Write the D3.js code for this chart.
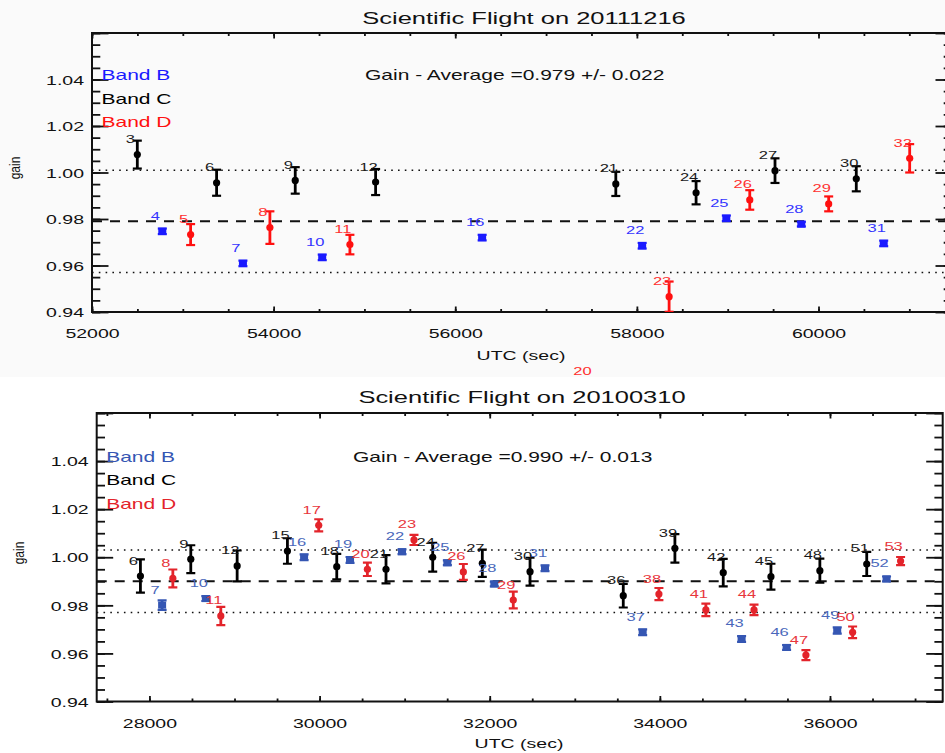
<!DOCTYPE html>
<html>
<head>
<meta charset="utf-8">
<script src="https://cdn.jsdelivr.net/npm/d3@7"></script>
<style>
  html, body { margin: 0; padding: 0; background: #ffffff; }
  svg { display: block; }
</style>
</head>
<body>
<svg id="chart" width="945" height="753"></svg>
<script>
// ---------------------------------------------------------------
// Gain calibration per band, two scientific flights.
// Each row: [point number, UTC (sec), gain, gain uncertainty]
// ---------------------------------------------------------------

// Flight 2011-12-16
const flight1Title = "Scientific Flight on 20111216";
const flight1Mean = 0.979;
const flight1Std = 0.022;
const flight1BandB = [
  [4, 52774, 0.9747, 0.0012], [7, 53662, 0.9609, 0.0012], [10, 54535, 0.9635, 0.0012],
  [16, 56296, 0.9720, 0.0012], [22, 58058, 0.9685, 0.0012], [25, 58985, 0.9803, 0.0012],
  [28, 59811, 0.9778, 0.0010], [31, 60718, 0.9695, 0.0012]
];
const flight1BandC = [
  [3, 52499, 1.0077, 0.0060], [6, 53372, 0.9956, 0.0056], [9, 54238, 0.9966, 0.0057],
  [12, 55123, 0.9959, 0.0056], [21, 57768, 0.9951, 0.0052], [24, 58652, 0.9913, 0.0050],
  [27, 59521, 1.0008, 0.0053], [30, 60416, 0.9973, 0.0054]
];
const flight1BandD = [
  [5, 53086, 0.9733, 0.0045], [8, 53959, 0.9763, 0.0070], [11, 54840, 0.9690, 0.0042],
  [20, 57478, 0.9080, 0.0050], [23, 58355, 0.9466, 0.0065], [26, 59243, 0.9882, 0.0042],
  [29, 60112, 0.9865, 0.0032], [32, 61004, 1.0061, 0.0061]
];

// Flight 2010-03-10
const flight2Title = "Scientific Flight on 20100310";
const flight2Mean = 0.990;
const flight2Std = 0.013;
const flight2BandB = [
  [7, 28149, 0.9801, 0.0020], [10, 28663, 0.9828, 0.0010], [16, 29818, 1.0000, 0.0012],
  [19, 30358, 0.9989, 0.0012], [22, 30969, 1.0023, 0.0010], [25, 31502, 0.9977, 0.0010],
  [28, 32054, 0.9889, 0.0010], [31, 32650, 0.9954, 0.0012], [37, 33798, 0.9688, 0.0012],
  [43, 34961, 0.9660, 0.0012], [46, 35490, 0.9625, 0.0010], [49, 36085, 0.9695, 0.0013],
  [52, 36665, 0.9910, 0.0010]
];
const flight2BandC = [
  [6, 27894, 0.9922, 0.0069], [9, 28486, 0.9992, 0.0058], [12, 29031, 0.9964, 0.0064],
  [15, 29622, 1.0026, 0.0053], [18, 30202, 0.9961, 0.0053], [21, 30781, 0.9950, 0.0059],
  [24, 31330, 1.0000, 0.0060], [27, 31913, 0.9975, 0.0057], [30, 32474, 0.9940, 0.0058],
  [36, 33570, 0.9840, 0.0049], [39, 34177, 1.0037, 0.0059], [42, 34745, 0.9936, 0.0057],
  [45, 35306, 0.9919, 0.0054], [48, 35881, 0.9944, 0.0050], [51, 36432, 0.9972, 0.0050]
];
const flight2BandD = [
  [8, 28275, 0.9912, 0.0037], [11, 28839, 0.9756, 0.0038], [17, 29990, 1.0133, 0.0025],
  [20, 30562, 0.9950, 0.0028], [23, 31110, 1.0072, 0.0021], [26, 31690, 0.9939, 0.0033],
  [29, 32277, 0.9822, 0.0035], [38, 33989, 0.9847, 0.0025], [41, 34541, 0.9781, 0.0026],
  [44, 35107, 0.9781, 0.0022], [47, 35717, 0.9593, 0.0021], [50, 36266, 0.9688, 0.0024],
  [53, 36830, 0.9984, 0.0017]
];

// Axis ticks
const gainTicks = [0.94, 0.96, 0.98, 1.00, 1.02, 1.04];
const gainMinorStep = 0.005;
const flight1UtcTicks = [52000, 54000, 56000, 58000, 60000];
const flight2UtcTicks = [28000, 30000, 32000, 34000, 36000];
const utcMinorStep = 500;

const legendNames = ["Band B", "Band C", "Band D"];

// ---------------------------------------------------------------
const FONT = "'Liberation Sans', Arial, Helvetica, sans-serif";
const SX = 1.5;   // horizontal stretch of all lettering
const svg = d3.select("#chart");

// faint backdrop behind the upper panel
svg.append("rect").attr("x", 0).attr("y", 0).attr("width", 945).attr("height", 377)
  .attr("fill", "#fafafa");

function stretchedText(g, x, y, str, size, anchor, color) {
  return g.append("text")
    .attr("transform", `translate(${x},${y}) scale(${SX},1)`)
    .attr("text-anchor", anchor)
    .attr("font-family", FONT)
    .attr("font-size", size)
    .attr("fill", color)
    .text(str);
}

function range(a, b, step) {
  const out = [];
  for (let v = a; v <= b + 1e-9; v += step) out.push(+v.toFixed(6));
  return out;
}

function drawPanel(cfg) {
  const { left, right, top, bottom, xDomain } = cfg;
  const x = d3.scaleLinear().domain(xDomain).range([left, right]);
  const y = d3.scaleLinear().domain([0.94, 1.06]).range([bottom, top]);
  const g = svg.append("g");
  const clipId = "clip" + cfg.id;
  g.append("clipPath").attr("id", clipId).append("rect")
    .attr("x", left).attr("y", top).attr("width", right - left).attr("height", bottom - top);

  // title
  stretchedText(g, cfg.titleX, cfg.titleY, cfg.title, 17, "middle", "#111");

  // reference lines: mean (dashed) and mean +/- std (dotted)
  const lines = g.append("g").attr("clip-path", `url(#${clipId})`);
  [[cfg.mean, "10,8", 2], [cfg.mean + cfg.std, "1.6,5.2", 1.6], [cfg.mean - cfg.std, "1.6,5.2", 1.6]]
    .forEach(([v, dash, w]) => {
      lines.append("line")
        .attr("x1", left).attr("x2", right)
        .attr("y1", y(v)).attr("y2", y(v))
        .attr("stroke", "#111").attr("stroke-width", w)
        .attr("stroke-dasharray", dash);
    });

  // axes with inward ticks on all four sides
  const minorY = range(0.94, 1.06, gainMinorStep);
  const minorX = range(Math.ceil(xDomain[0] / utcMinorStep) * utcMinorStep, xDomain[1], utcMinorStep);
  const majorX = minorX.filter(v => v % 2000 === 0);
  const tickAxis = (axis, tr) => {
    const a = g.append("g").attr("transform", tr).call(axis);
    a.select(".domain").remove();
    a.selectAll("line").attr("stroke", "#111").attr("stroke-width", 1.8);
    a.selectAll("text").remove();
  };
  const yMajor = 16.5, yMinor = 8.3, xMajor = 5.5, xMinor = 3;
  tickAxis(d3.axisLeft(y).tickValues(minorY).tickSize(-yMinor), `translate(${left},0)`);
  tickAxis(d3.axisLeft(y).tickValues(gainTicks.concat([1.06])).tickSize(-yMajor), `translate(${left},0)`);
  tickAxis(d3.axisRight(y).tickValues(minorY).tickSize(-yMinor), `translate(${right},0)`);
  tickAxis(d3.axisRight(y).tickValues(gainTicks.concat([1.06])).tickSize(-yMajor), `translate(${right},0)`);
  tickAxis(d3.axisBottom(x).tickValues(minorX).tickSize(-xMinor), `translate(0,${bottom})`);
  tickAxis(d3.axisBottom(x).tickValues(majorX).tickSize(-xMajor), `translate(0,${bottom})`);
  tickAxis(d3.axisTop(x).tickValues(minorX).tickSize(-xMinor), `translate(0,${top})`);
  tickAxis(d3.axisTop(x).tickValues(majorX).tickSize(-xMajor), `translate(0,${top})`);

  // tick labels
  const yLab = g.append("g").attr("transform", `translate(${left},0)`)
    .call(d3.axisLeft(y).tickValues(gainTicks).tickSize(0).tickPadding(0).tickFormat(d3.format(".2f")));
  yLab.select(".domain").remove();
  yLab.selectAll("text")
    .attr("x", null).attr("dy", "0.36em")
    .attr("transform", `translate(-8,0) scale(${SX},1)`)
    .attr("font-family", FONT).attr("font-size", 13).attr("fill", "#111");
  const xLab = g.append("g").attr("transform", `translate(0,${bottom})`)
    .call(d3.axisBottom(x).tickValues(cfg.xTicks).tickSize(0).tickPadding(0).tickFormat(d3.format("d")));
  xLab.select(".domain").remove();
  xLab.selectAll("text")
    .attr("y", cfg.xLabelGap).attr("dy", null)
    .attr("transform", `scale(${SX},1)`)
    .attr("font-family", FONT).attr("font-size", 13).attr("fill", "#111");

  // frame
  g.append("rect").attr("x", left).attr("y", top)
    .attr("width", right - left).attr("height", bottom - top)
    .attr("fill", "none").attr("stroke", "#111").attr("stroke-width", 2);

  // axis titles
  stretchedText(g, cfg.xTitleX, cfg.xTitleY, "UTC (sec)", 13, "middle", "#111");
  g.append("text")
    .attr("transform", `translate(${cfg.yTitleX},${cfg.yTitleY}) scale(1,0.8) rotate(-90)`)
    .attr("text-anchor", "middle")
    .attr("font-family", FONT).attr("font-size", 15).attr("fill", "#111")
    .text("gain");

  // legend and average
  cfg.bands.forEach((b, i) => {
    stretchedText(g, left + 9.5, cfg.legendY + i * 23.7, legendNames[i], 14, "start", b.color);
  });
  stretchedText(g, cfg.avgX, cfg.legendY,
    `Gain - Average =${cfg.mean.toFixed(3)} +/- ${cfg.std.toFixed(3)}`, 14, "start", "#111");

  // data points with error bars
  const marks = g.append("g").attr("clip-path", `url(#${clipId})`);
  const labels = g.append("g");
  cfg.bands.forEach(b => {
    const pts = marks.selectAll(null).data(b.rows).join("g")
      .attr("transform", d => `translate(${x(d[1])},0)`);
    pts.append("line")
      .attr("y1", d => y(d[2] - d[3])).attr("y2", d => y(d[2] + d[3]))
      .attr("stroke", b.color).attr("stroke-width", 2.8);
    [-1, 1].forEach(s => {
      pts.append("line")
        .attr("x1", -4.5).attr("x2", 4.5)
        .attr("y1", d => y(d[2] + s * d[3])).attr("y2", d => y(d[2] + s * d[3]))
        .attr("stroke", b.color).attr("stroke-width", 2.2);
    });
    if (b.square) {
      pts.append("rect")
        .attr("x", -4).attr("y", d => y(d[2]) - 3.5)
        .attr("width", 8).attr("height", 7)
        .attr("fill", b.color);
    } else {
      pts.append("circle")
        .attr("cy", d => y(d[2])).attr("r", 3.6)
        .attr("fill", b.color);
    }
    b.rows.forEach(d => {
      stretchedText(labels, x(d[1]) - 7, y(d[2]) - 11.5, String(d[0]), 11, "middle", b.labelColor);
    });
  });
}

drawPanel({
  id: 1, title: flight1Title, mean: flight1Mean, std: flight1Std,
  left: 92, right: 952, top: 33, bottom: 312, xDomain: [52000, 61470],
  xTicks: flight1UtcTicks, xLabelGap: 26,
  titleX: 524, titleY: 24, xTitleX: 521, xTitleY: 360, yTitleX: 20, yTitleY: 168,
  legendY: 80, avgX: 365,
  bands: [
    { rows: flight1BandB, color: "#1a1aff", labelColor: "#3434ff", square: true },
    { rows: flight1BandC, color: "#000000", labelColor: "#1a1a1a", square: false },
    { rows: flight1BandD, color: "#ff1010", labelColor: "#ff3030", square: false }
  ]
});

drawPanel({
  id: 2, title: flight2Title, mean: flight2Mean, std: flight2Std,
  left: 96.7, right: 942.7, top: 413, bottom: 701.5, xDomain: [27380, 37325],
  xTicks: flight2UtcTicks, xLabelGap: 27,
  titleX: 522, titleY: 403, xTitleX: 519, xTitleY: 748, yTitleX: 24, yTitleY: 553,
  legendY: 461.5, avgX: 353,
  bands: [
    { rows: flight2BandB, color: "#3556b3", labelColor: "#4a68bb", square: true },
    { rows: flight2BandC, color: "#000000", labelColor: "#1a1a1a", square: false },
    { rows: flight2BandD, color: "#e3242b", labelColor: "#e8363c", square: false }
  ]
});
</script>
</body>
</html>
